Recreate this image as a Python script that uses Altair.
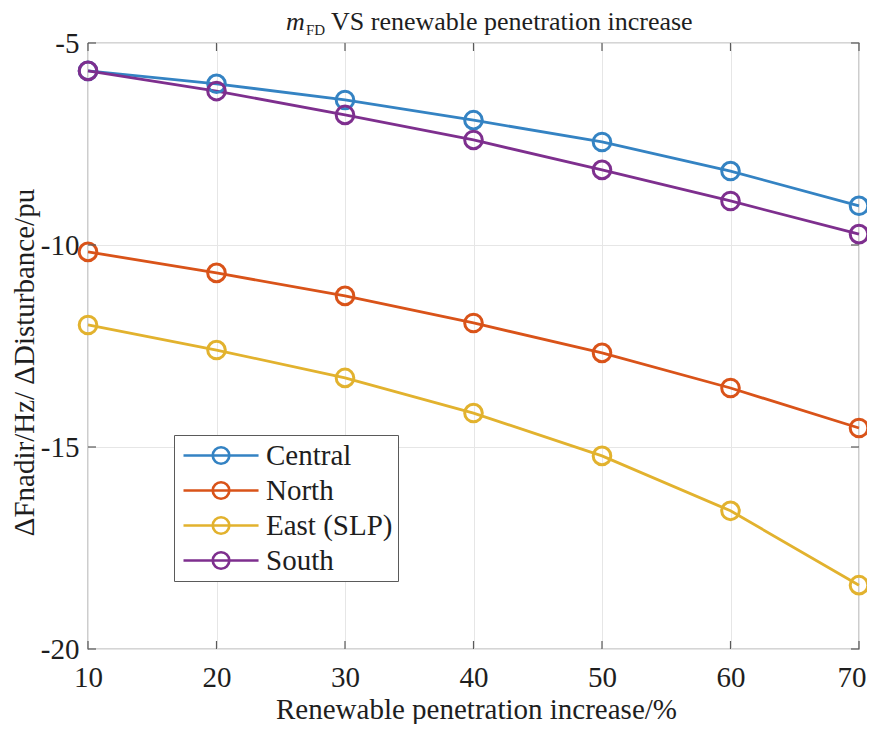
import altair as alt
import pandas as pd

# ---- data ----
pen = [10, 20, 30, 40, 50, 60, 70]
central = [-5.69, -6.01, -6.41, -6.91, -7.45, -8.17, -9.03]
north = [-10.17, -10.69, -11.26, -11.93, -12.67, -13.54, -14.53]
east = [-11.98, -12.60, -13.29, -14.16, -15.22, -16.58, -18.42]
south = [-5.69, -6.19, -6.78, -7.40, -8.14, -8.91, -9.73]

series_names = ["Central", "North", "East (SLP)", "South"]
series_colors = ["#3483C3", "#D95319", "#E2B22E", "#7E2F8E"]

x_ticks = [10, 20, 30, 40, 50, 60, 70]
y_ticks = [-5, -10, -15, -20]
title_parts = ["m", "FD", "VS renewable penetration increase"]
x_title = "Renewable penetration increase/%"
y_title = "\u0394Fnadir/Hz/ \u0394Disturbance/pu"

rows = []
for name, vals in zip(series_names, [central, north, east, south]):
    for p, v in zip(pen, vals):
        rows.append({"pen": p, "val": v, "region": name})
df = pd.DataFrame(rows)

W, H = 771, 606
FONT = "Liberation Serif"
TXT = "#1e1e1e"
FRAME = "#5a5a5a"

xscale = alt.Scale(domain=[10, 70], nice=False, zero=False)
yscale = alt.Scale(domain=[-20, -5], nice=False, zero=False)

# legend glyph: line with a hollow circle; unit = 14 px (symbolSize 28^2)
legend_symbol = "M-1,0H4.36M2.27,0A0.59,0.59 0 1,1 1.09,0A0.59,0.59 0 1,1 2.27,0Z"

legend = alt.Legend(
    orient="none", legendX=86, legendY=392, title=None,
    symbolType=legend_symbol, symbolSize=784, symbolStrokeWidth=2.7,
    symbolFillColor="transparent", symbolOffset=3,
    labelFont=FONT, labelFontSize=29, labelColor=TXT, labelOffset=53,
    rowPadding=4, padding=5, strokeColor=FRAME, fillColor="white",
    cornerRadius=0, labelLimit=400,
)
color = alt.Color("region:N", scale=alt.Scale(domain=series_names, range=series_colors), legend=legend)

x_enc = alt.X("pen:Q", scale=xscale, axis=alt.Axis(
    values=x_ticks, title=x_title, labelPadding=14, labelFlush=False, labelOverlap=False,
    labelFont=FONT, titleFont=FONT, labelExpr="toString(datum.value)",
    labelAlign={"condition": {"test": "datum.value == 70", "value": "right"}, "value": "center"},
    labelOffset={"condition": {"test": "datum.value == 70", "value": 7}, "value": 0},
    titleX=388, titleY=69, titleBaseline="alphabetic", titleAlign="center"))
y_enc = alt.Y("val:Q", scale=yscale, axis=alt.Axis(
    values=y_ticks, title=y_title, labelPadding=9, labelFlush=False, labelOverlap=False,
    labelFont=FONT, titleFont=FONT, labelExpr="toString(datum.value)",
    titleX=-55, titleY=319, titleBaseline="alphabetic", titleAlign="center", titleAngle=270))

lines = alt.Chart(df).mark_line(strokeWidth=2.8).encode(x=x_enc, y=y_enc, color=color)
points = alt.Chart(df).mark_point(filled=False, size=310, strokeWidth=3, opacity=1).encode(
    x="pen:Q", y="val:Q", color=color)

xt = pd.DataFrame({"pen": x_ticks})
yt = pd.DataFrame({"val": y_ticks})
tick_style = dict(color=FRAME, strokeWidth=1.2)
xt_bottom = alt.Chart(xt).mark_rule(**tick_style).encode(x="pen:Q", y=alt.value(H), y2=alt.value(H - 8))
xt_top = alt.Chart(xt).mark_rule(**tick_style).encode(x="pen:Q", y=alt.value(0), y2=alt.value(8))
yt_left = alt.Chart(yt).mark_rule(**tick_style).encode(y="val:Q", x=alt.value(0), x2=alt.value(8))
yt_right = alt.Chart(yt).mark_rule(**tick_style).encode(y="val:Q", x=alt.value(W), x2=alt.value(W - 8))

t_m = alt.Chart(pd.DataFrame({"t": [title_parts[0]]})).mark_text(
    font=FONT, fontSize=26, fontStyle="italic", align="left", baseline="alphabetic", color=TXT
).encode(text="t:N", x=alt.value(198), y=alt.value(-13))
t_fd = alt.Chart(pd.DataFrame({"t": [title_parts[1]]})).mark_text(
    font=FONT, fontSize=15, align="left", baseline="alphabetic", color=TXT
).encode(text="t:N", x=alt.value(218), y=alt.value(-8))
t_rest = alt.Chart(pd.DataFrame({"t": [title_parts[2]]})).mark_text(
    font=FONT, fontSize=26, align="left", baseline="alphabetic", color=TXT
).encode(text="t:N", x=alt.value(243), y=alt.value(-13))

chart = alt.layer(
    lines, points, xt_bottom, xt_top, yt_left, yt_right, t_m, t_fd, t_rest
).properties(
    width=W, height=H,
    autosize=alt.AutoSizeParams(type="none"),
    padding={"left": 80, "top": 35, "right": 8, "bottom": 75},
    background="white",
).configure_view(
    stroke=FRAME, strokeWidth=1.2
).configure_axis(
    labelFont=FONT, labelFontSize=29, labelColor=TXT,
    titleFont=FONT, titleFontSize=29, titleColor=TXT, titleFontWeight="normal",
    grid=True, gridColor="#e6e6e6", gridWidth=1,
    domain=False, ticks=False,
)

chart.save("out.html", embed_options={"renderer": "svg", "actions": False})
